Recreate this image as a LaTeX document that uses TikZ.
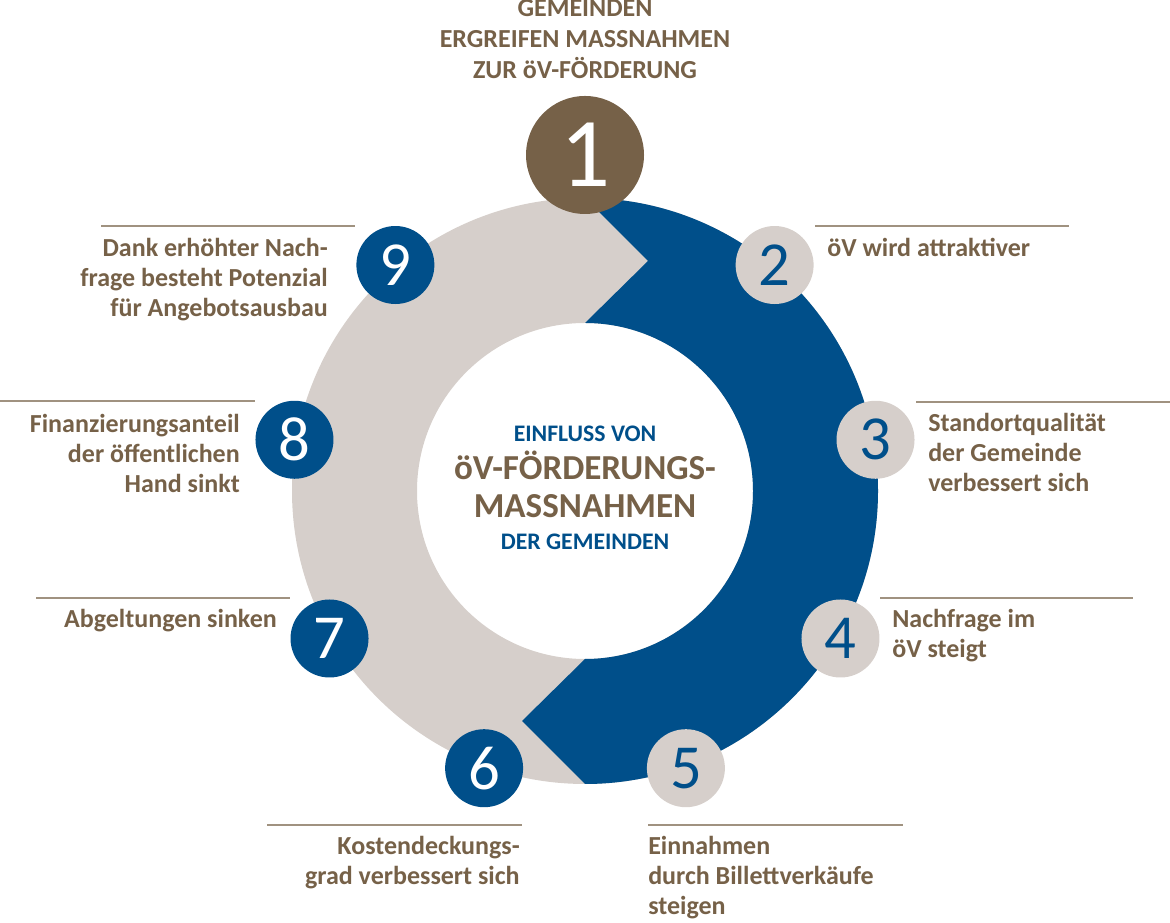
\documentclass[tikz,border=0pt]{standalone}
\usepackage{fontspec}
\setmainfont{Carlito}
\definecolor{brn}{RGB}{118,97,72}
\definecolor{blu}{RGB}{0,79,138}
\definecolor{gry}{RGB}{214,207,203}
\definecolor{rulec}{RGB}{160,146,128}
\begin{document}
\begin{tikzpicture}[x=0.75pt,y=0.75pt,
  lbl/.style={font=\fontsize{19.5}{22.5}\selectfont\bfseries, text=brn, inner sep=0pt},
  lblL/.style={lbl, align=left, anchor=base west},
  lblR/.style={lbl, align=right, anchor=base east},
  rulel/.style={draw=rulec, line width=1.1pt},
  numbase/.style={circle, inner sep=0pt, minimum size=58.5pt, font=\fontsize{47}{47}\selectfont},
  numG/.style={numbase, fill=gry, text=blu},
  numB/.style={numbase, fill=blu, text=white},
  numT/.style={circle, inner sep=0pt, minimum size=88.5pt, fill=brn, text=white, font=\fontsize{74}{74}\selectfont},
  ctrS/.style={font=\fontsize{17.8}{17.8}\selectfont\bfseries, text=blu, inner sep=0pt, anchor=base},
  ctrL/.style={font=\fontsize{26.3}{26.3}\selectfont\bfseries, text=brn, inner sep=0pt, anchor=base}]
\useasboundingbox (0,0) rectangle (1170,923);
\begin{scope}[shift={(585,432)}]
  \fill[gry, even odd rule] (0,0) circle (293) (0,0) circle (168);
  \fill[blu] (0,293) arc[start angle=90, end angle=-90, radius=293]
     -- ++(-63,63) -- (0,-168) arc[start angle=-90, end angle=90, radius=168]
     -- ++(63,62) -- cycle;
  \node[numT] (n1) at (0,336) {1};
  \node[numG] (n2) at (50:295) {2};
  \node[numG] (n3) at (10:295) {3};
  \node[numG] (n4) at (-30:295) {4};
  \node[numG] (n5) at (-70:295) {5};
  \node[numB] (n6) at (-110:295) {6};
  \node[numB] (n7) at (-150:295) {7};
  \node[numB] (n8) at (170:295) {8};
  \node[numB] (n9) at (130:295) {9};
\end{scope}
% rules
\draw[rulel] (101,697) -- (355,697);
\draw[rulel] (815,697) -- (1069,697);
\draw[rulel] (916,521) -- (1170,521);
\draw[rulel] (0,522) -- (255,522);
\draw[rulel] (36,325) -- (290,325);
\draw[rulel] (880,325) -- (1133,325);
\draw[rulel] (267,98) -- (522,98);
\draw[rulel] (648,98) -- (903,98);
% labels (anchor = baseline of last line)
\node[lblR] (t9) at (328,606) {Dank erhöhter Nach-\\frage besteht Potenzial\\für Angebotsausbau};
\node[lblL] (t2) at (827,666) {öV wird attraktiver};
\node[lblL] (t3) at (928,431) {Standortqualität\\der Gemeinde\\verbessert sich};
\node[lblR] (t8) at (240,430) {Finanzierungsanteil\\der öffentlichen\\Hand sinkt};
\node[lblR] (t7) at (277,295) {Abgeltungen sinken};
\node[lblL] (t4) at (892,265) {Nachfrage im\\öV steigt};
\node[lblR] (t6) at (520,38) {Kostendeckungs-\\grad verbessert sich};
\node[lblL] (t5) at (648,8) {Einnahmen\\durch Billettverkäufe\\steigen};
% title
\node[lbl, align=center, anchor=base, font=\fontsize{19.5}{23.25}\selectfont\bfseries] (title) at (585,844) {GEMEINDEN\\ERGREIFEN MASSNAHMEN\\ZUR öV-FÖRDERUNG};
% centre
\node[ctrS] (c1) at (585,481) {EINFLUSS VON};
\node[ctrL] (c2) at (585,443) {öV-FÖRDERUNGS-};
\node[ctrL] (c3) at (585,405) {MASSNAHMEN};
\node[ctrS] (c4) at (585,373) {DER GEMEINDEN};
\end{tikzpicture}
\end{document}
